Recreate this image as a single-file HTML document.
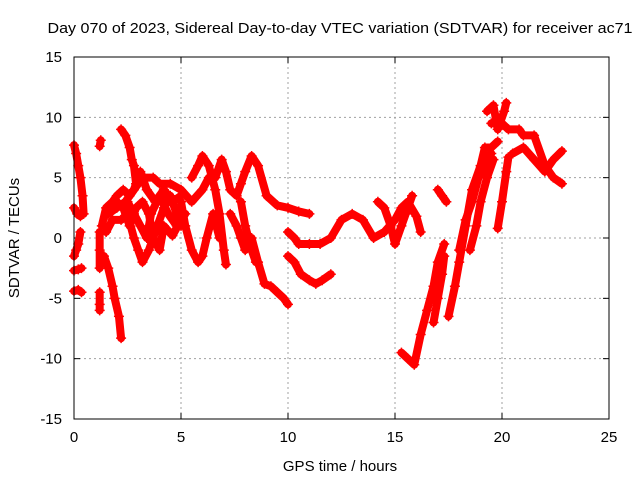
<!DOCTYPE html>
<html><head><meta charset="utf-8"><style>
body{margin:0;background:#fff;}
svg{font-family:"Liberation Sans",sans-serif;}
</style></head><body>
<svg id="chart" width="640" height="480" viewBox="0 0 640 480" xmlns="http://www.w3.org/2000/svg">
<rect width="640" height="480" fill="#fff"/>
<text x="340" y="33" font-size="15" text-anchor="middle" textLength="585" lengthAdjust="spacingAndGlyphs" fill="#000">Day 070 of 2023, Sidereal Day-to-day VTEC variation (SDTVAR) for receiver ac71</text>
<text x="340" y="471" font-size="15" text-anchor="middle">GPS time / hours</text>
<text transform="translate(19,238) rotate(-90)" font-size="15" text-anchor="middle">SDTVAR / TECUs</text>
<g id="grid"></g><g id="ticks"></g><g id="marks"></g>
<rect x="74" y="57" width="535" height="362" fill="none" stroke="#000" stroke-width="1"/>
</svg>
<script>
const xTicks=[0,5,10,15,20,25];
const yTicks=[-15,-10,-5,0,5,10,15];
const tracks=[
[[0,7.7],[0.1,7],[0.2,6],[0.3,5],[0.4,3.5],[0.45,2]],
[[0,2.5],[0.15,2],[0.3,1.8],[0.4,2]],
[[0,-1.5],[0.1,-1],[0.2,-0.5],[0.3,0.5]],
[[0,-2.7],[0.2,-2.6],[0.35,-2.5]],
[[0,-4.4],[0.2,-4.3],[0.35,-4.5]],
[[1.2,7.6],[1.25,8.1]],
[[1.2,0.5],[1.2,-1],[1.2,-2.5]],
[[1.2,-4.5],[1.2,-5.5],[1.2,-6]],
[[1.4,-1.5],[1.6,-2.5],[1.8,-4],[1.9,-5],[2.1,-6.5],[2.2,-8.3]],
[[2.2,9],[2.4,8.5],[2.6,7.5],[2.7,6.5],[2.8,6],[2.9,4.5]],
[[1.3,1],[1.5,2.5],[1.8,3],[2,3.5],[2.3,4],[2.6,3.5],[3,4.5],[3.3,5],[3.7,5],[4,4.5],[4.5,4.5],[5,4],[5.5,3],[6,4],[6.3,5]],
[[1.5,0.5],[1.8,1.5],[2.2,1.5],[2.5,2],[2.8,0],[3,-1],[3.2,-2],[3.5,-1],[3.8,0.5],[4.2,2.5],[4.5,3.5],[4.8,2],[5,1]],
[[2,3],[2.3,2.5],[2.6,1],[2.9,2.5],[3.2,3],[3.5,2],[3.7,0],[4,-1],[4.2,1],[4.6,0.2],[5,1.5]],
[[1.6,2],[2,2.5],[2.4,3],[2.8,4],[3.1,5.5],[3.4,4],[3.8,3],[4.2,4],[4.6,3],[5,3.5]],
[[2.5,3],[2.8,2],[3.1,1],[3.4,0],[3.6,2],[4,3.5],[4.4,2],[4.8,1],[5.2,2]],
[[5,3],[5.2,1],[5.5,-1],[5.8,-2],[6,-1.5],[6.2,0],[6.5,2],[6.8,0]],
[[5.5,5],[5.8,6],[6,6.8],[6.3,6],[6.6,4],[6.8,2],[7,-1],[7.1,-2.2]],
[[6.6,5],[6.9,6.5],[7.1,5.5],[7.3,4],[7.6,3.5],[7.8,4.5],[8,5.5],[8.3,6.8],[8.6,6],[9,3.5],[9.5,2.7],[10,2.5],[10.5,2.2],[11,2]],
[[7.3,2],[7.6,1],[7.8,0],[8,-1],[8.3,0],[8.6,-2],[8.9,-3.8],[9.2,-4],[9.5,-4.5],[9.8,-5],[10,-5.5]],
[[7.8,3],[8,1],[8.3,-1],[8.5,-2]],
[[10,-1.5],[10.3,-2],[10.6,-3],[11,-3.5],[11.3,-3.8],[11.6,-3.5],[12,-3]],
[[10,0.5],[10.3,0],[10.5,-0.5],[11,-0.5],[11.5,-0.5],[12,0],[12.5,1.5],[13,2],[13.5,1.5],[14,0],[14.5,0.5],[15,1.5],[15.3,2.5],[15.6,3],[16,1.8],[16.2,0.5]],
[[14.2,3],[14.5,2.5],[14.8,1],[15,-0.5],[15.3,1],[15.5,2],[15.8,3.5]],
[[15.3,-9.5],[15.6,-10],[15.9,-10.5],[16.2,-8],[16.5,-6],[16.8,-4],[17,-2],[17.3,-0.5]],
[[16.8,-7],[17,-5],[17.2,-3],[17.3,-1.5]],
[[17,4],[17.2,3.5],[17.4,3]],
[[17.5,-6.5],[17.8,-4],[18,-2],[18.3,1],[18.6,4],[19,6],[19.2,7.5],[19.5,7.5],[19.8,8]],
[[18,-1],[18.3,1.5],[18.6,3],[18.9,5],[19.2,6],[19.5,7]],
[[18.5,-1],[18.8,1],[19,3],[19.3,5],[19.6,6.5]],
[[19.8,0.8],[20,3],[20.2,5.5],[20.3,6.7]],
[[19.3,10.5],[19.6,11],[19.8,9],[20.1,10.5],[20.2,11.2]],
[[19.5,9.5],[20,9.5],[20.3,9],[20.8,9],[21,8.5],[21.5,8.5],[22,6],[22.4,5],[22.8,4.5]],
[[20.5,7],[21,7.5],[21.5,6.5],[22,5.5],[22.4,6.5],[22.8,7.2]]
];
const X0=74,X1=609,Y0=419,Y1=57;
const sx=v=>X0+(v-0)/25*(X1-X0);
const sy=v=>Y0-(v+15)/30*(Y0-Y1);
const NS="http://www.w3.org/2000/svg";
const grid=document.getElementById('grid'),ticks=document.getElementById('ticks'),marks=document.getElementById('marks');
function mk(tag,attrs,parent){const e=document.createElementNS(NS,tag);for(const k in attrs)e.setAttribute(k,attrs[k]);parent.appendChild(e);return e;}
xTicks.forEach(t=>{
 const x=sx(t);
 if(t>0&&t<25){const g=mk('line',{x1:x,x2:x,y1:Y1,y2:Y0,stroke:'#a0a0a0','stroke-dasharray':'2,3'},grid);
 
 }
 mk('line',{x1:x,x2:x,y1:Y0,y2:Y0-6,stroke:'#000'},ticks);
 mk('line',{x1:x,x2:x,y1:Y1,y2:Y1+6,stroke:'#000'},ticks);
 const l=mk('text',{x:x,y:442,'font-size':15,'text-anchor':'middle'},ticks);l.textContent=t;
 
 
});
yTicks.forEach(t=>{
 const y=sy(t);
 if(t>-15&&t<15){const g=mk('line',{x1:X0,x2:X1,y1:y,y2:y,stroke:'#a0a0a0','stroke-dasharray':'2,3'},grid);
 
 }
 mk('line',{x1:X0,x2:X0+6,y1:y,y2:y,stroke:'#000'},ticks);
 mk('line',{x1:X1,x2:X1-6,y1:y,y2:y,stroke:'#000'},ticks);
 const l=mk('text',{x:62,y:y+5,'font-size':15,'text-anchor':'end'},ticks);l.textContent=t;
 
 
});
tracks.forEach(tr=>{
 const pl=mk('polyline',{points:tr.map(p=>sx(p[0])+','+sy(p[1])).join(' '),fill:'none',stroke:'#f00','stroke-width':8,'stroke-linejoin':'round','stroke-linecap':'round'},marks);
 
 
 tr.forEach(p=>{const x=sx(p[0]),y=sy(p[1]);
  const c=mk('path',{d:`M${x-5},${y}H${x+5}M${x},${y-5}V${y+5}`,stroke:'#f00','stroke-width':1.5},marks);
  
  
 });
});
</script>
</body></html>
